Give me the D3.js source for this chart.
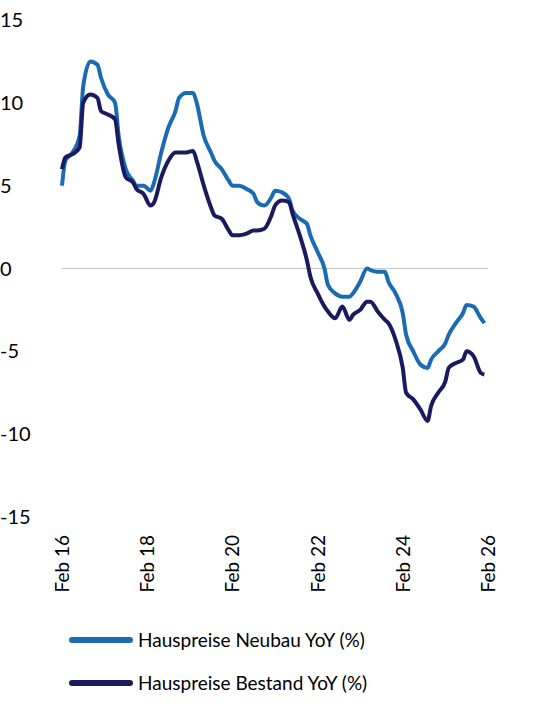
<!DOCTYPE html>
<html><head><meta charset="utf-8">
<script src="https://cdn.jsdelivr.net/npm/d3@7"></script>
<style>body{margin:0;background:#fff}text{font-family:Lato,"Open Sans",sans-serif}</style>
</head><body><div class="canvas"></div>
<script>
// month offsets from Feb 2016
const months = [0,1,3,5,6,8,10,11,13,15,16,18,20,21,23,25,26,28,30,32,33,35,37,38,40,42,43,45,47,48,50,52,54,55,57,59,60,62,64,65,67,69,70,72,74,75,77,79,81,82,84,86,87,89,91,92,94,96,97,99,101,103,104,106,108,109,111,113,114,116,118,119]
const neubau = [5,6.5,7,8,11,12.5,12.3,11.5,10.5,10,8,6,5.3,5,5,4.7,5.2,7,8.5,9.5,10.3,10.6,10.6,10,8,7,6.5,6,5.3,5,5,4.8,4.5,4,3.8,4.3,4.7,4.6,4.2,3.5,3,2.7,2,1,0,-1,-1.5,-1.7,-1.7,-1.5,-0.8,0,-0.1,-0.2,-0.2,-0.8,-1.5,-2.7,-4,-5,-5.8,-6,-5.5,-5,-4.5,-4,-3.3,-2.7,-2.2,-2.3,-3,-3.3]
const bestand = [6,6.7,6.9,7.3,10,10.5,10.3,9.5,9.3,9,7.5,5.5,5.2,4.8,4.5,3.8,4,5.5,6.5,7,7,7,7.1,6.5,5,3.7,3.2,3,2.3,2,2,2.1,2.3,2.3,2.4,3.2,3.8,4.1,4,3.3,2,0.5,-0.5,-1.5,-2.3,-2.6,-3,-2.3,-3.1,-2.8,-2.5,-2,-2,-2.6,-3.1,-3.3,-4.3,-6,-7.5,-7.9,-8.5,-9.2,-8.3,-7.5,-6.8,-6,-5.7,-5.5,-5,-5.3,-6.3,-6.4]
const yTicks = [15,10,5,0,-5,-10,-15]
const xTickYears = [2016,2018,2020,2022,2024,2026]
const seriesNames = ['Hauspreise Neubau YoY (%)', 'Hauspreise Bestand YoY (%)']
const colors = ['#1a6bb3', '#1a1b5e']

const svg = d3.select('.canvas').append('svg').attr('width', 556).attr('height', 727)

const x = d3.scaleTime().domain([new Date(2016,1,1), new Date(2026,1,1)]).range([62, 488])
const y = d3.scaleLinear().domain([-15, 15]).range([517, 20])
const date = m => new Date(2016, 1 + m, 1)

svg.append('line').attr('x1', 62).attr('x2', 488).attr('y1', y(0)).attr('y2', y(0))
  .attr('stroke', '#c8c8c8').attr('stroke-width', 1)

svg.selectAll('.ylab').data(yTicks).enter().append('text')
  .attr('x', 0).attr('y', d => y(d)).attr('dy', '0.35em')
  .attr('font-size', 20).attr('fill', '#000').text(d => d)

svg.selectAll('.xlab').data(xTickYears).enter().append('text')
  .attr('transform', d => `translate(${x(new Date(d,1,1)) + 7},535) rotate(-90)`)
  .attr('text-anchor', 'end').attr('font-size', 19).attr('fill', '#000')
  .text(d => 'Feb ' + String(d).slice(2))

const line = d3.line().x((d, i) => x(date(months[i]))).y(d => y(d)).curve(d3.curveMonotoneX)
;[neubau, bestand].forEach((s, k) => {
  svg.append('path').attr('d', line(s)).attr('fill', 'none')
    .attr('stroke', colors[k]).attr('stroke-width', 4).attr('stroke-linejoin', 'round')
})

seriesNames.forEach((n, k) => {
  const ly = 640 + k * 43
  svg.append('line').attr('x1', 72).attr('x2', 130).attr('y1', ly).attr('y2', ly)
    .attr('stroke', colors[k]).attr('stroke-width', 6).attr('stroke-linecap', 'round')
  svg.append('text').attr('x', 138).attr('y', ly).attr('dy', '0.35em')
    .attr('font-size', 19).attr('fill', '#000').text(n)
})
</script></body></html>
